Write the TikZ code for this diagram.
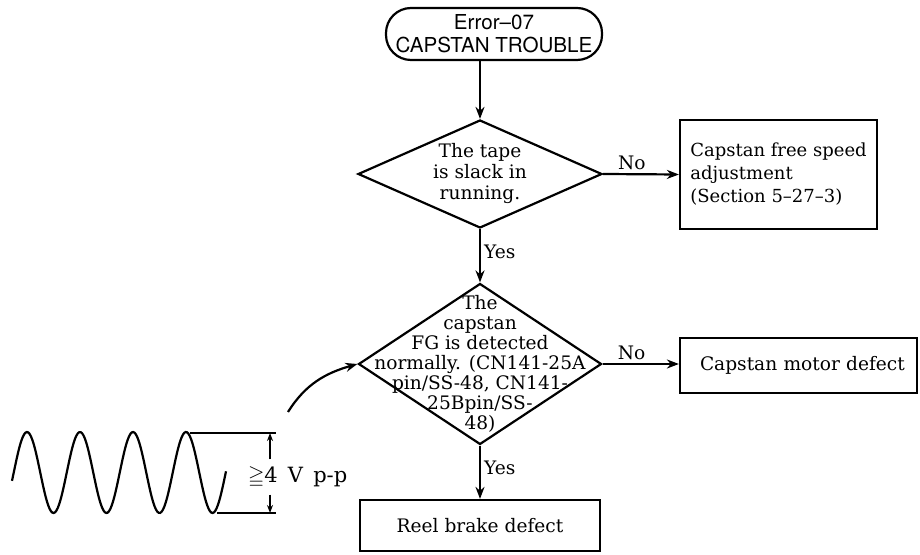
\documentclass[tikz,border=0pt]{standalone}
\usepackage{amssymb}
\usepackage{fontspec}
\setmainfont{DejaVu Serif}
\newfontfamily\headfont{TeX Gyre Heros}
\usetikzlibrary{arrows.meta,shapes.geometric,positioning}

\begin{document}
\begin{tikzpicture}[x=0.5pt, y=-0.5pt,
  font=\fontsize{9.3}{10.5}\selectfont,
  box/.style={draw, line width=1.1pt, inner sep=0pt},
  start/.style={box, rounded corners=12.5pt, minimum width=108pt, minimum height=26pt, align=center,
                font=\headfont\fontsize{10.3}{11.5}\selectfont},
  decision/.style={box, diamond},
  result/.style={box, align=left},
  arr/.style={-{Stealth[length=6pt, width=4.5pt]}, line width=1.1pt},
  dim/.style={-{Stealth[length=4pt, width=3pt]}, line width=0.8pt},
  lbl/.style={inner sep=1.5pt}
]
\useasboundingbox (0,0) rectangle (920,555);

\node[start] (err) at (494,34) {Error–07\\CAPSTAN TROUBLE};
\node[decision, minimum width=122pt, minimum height=54pt,
      label={[align=center]center:The tape\\is slack in\\running.}] (slack) at (480,174) {};
\node[result, minimum width=98.5pt, minimum height=54.5pt,
      font=\fontsize{9}{11.5}\selectfont] (adjust) at (778.5,174.5)
      {Capstan free speed\\adjustment\\(Section 5–27–3)};
\node[decision, minimum width=121.5pt, minimum height=80.5pt,
      label={[align=center, font=\fontsize{9.3}{10}\selectfont]center:The\\capstan\\FG is detected\\normally. (CN141-25A\\pin/SS-48, CN141-\\25Bpin/SS-\\48)}]
      (fg) at (480,364) {};
\node[result, minimum width=118.5pt, minimum height=27.5pt, text width=108.5pt, inner xsep=5pt]
      (motor) at (798.5,365.5) {\hspace*{5pt}Capstan motor defect};
\node[box, minimum width=120pt, minimum height=25.5pt] (brake) at (480,525.5) {Reel brake defect};

\draw[arr] (err.south -| slack.north) -- (slack.north);
\draw[arr] (slack.east) -- node[lbl, above, pos=0.38] {No} (adjust.west);
\draw[arr] (slack.south) -- node[lbl, right, pos=0.42] {Yes} (fg.north);
\draw[arr] (fg.east) -- node[lbl, above, pos=0.38] {No} (fg.east -| motor.west);
\draw[arr] (fg.south) -- node[lbl, right, pos=0.42] {Yes} (brake.north);

% signal at the FG pin
\draw[line width=1.1pt] plot[domain=12:226, samples=160, smooth]
  (\x, {472.5-40.5*cos(6.7925*(\x-27))});
\draw[line width=0.8pt] (190,433) -- (276,433);
\draw[line width=0.8pt] (217,513) -- (276,513);
\coordinate (vtop) at (270,433);
\coordinate (vbot) at (270,513);
\node[anchor=west, font=\fontsize{10.5}{12}\selectfont] (vpp) at (241,477) {$\geqq$4\, V\, p-p};
\draw[dim] (vpp.north -| vtop) -- (vtop);
\draw[dim] (vpp.south -| vbot) -- (vbot);

\coordinate (wave) at (288,412);
\draw[arr] (wave) to[out=58, in=196] (fg.west);
\end{tikzpicture}
\end{document}
